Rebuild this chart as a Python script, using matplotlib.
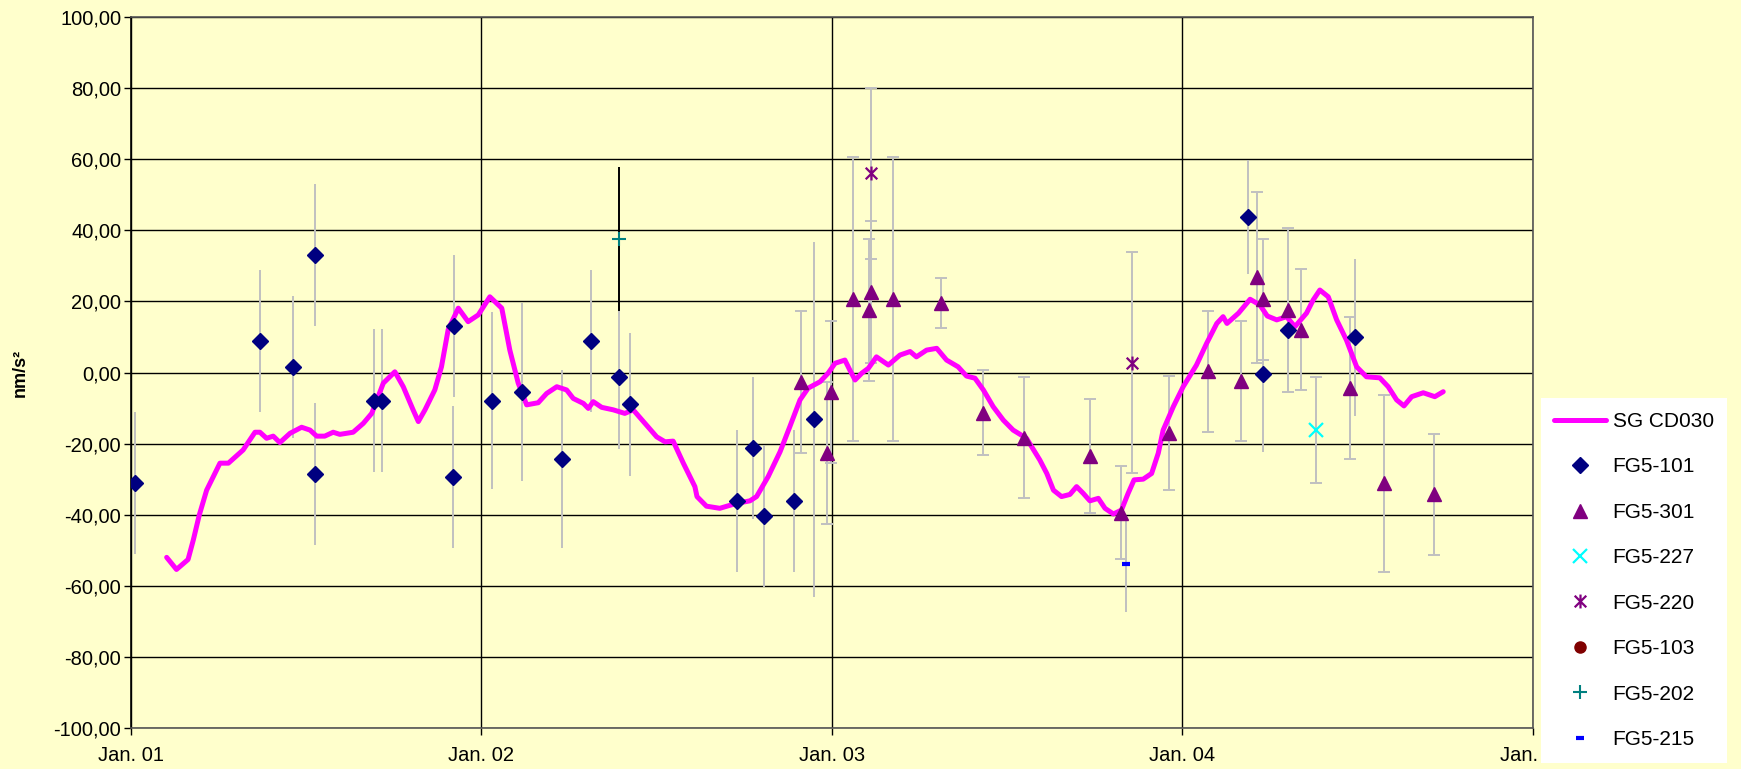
import matplotlib
matplotlib.use("Agg")
import matplotlib.pyplot as plt
from matplotlib.path import Path

plt.rcParams['font.family'] = ['Liberation Sans', 'DejaVu Sans']

# SG CD030 (decimal year, nm/s^2)
sg_x = [2001.102, 2001.130, 2001.163, 2001.178, 2001.195, 2001.216, 2001.254, 2001.278,
        2001.320, 2001.354, 2001.368, 2001.387, 2001.406, 2001.425, 2001.454, 2001.487,
        2001.511, 2001.530, 2001.553, 2001.577, 2001.596, 2001.634, 2001.663, 2001.687,
        2001.691, 2001.720, 2001.753, 2001.777, 2001.805, 2001.820, 2001.839, 2001.867,
        2001.886, 2001.905, 2001.934, 2001.962, 2001.991, 2002.024, 2002.058, 2002.081,
        2002.105, 2002.129, 2002.162, 2002.186, 2002.215, 2002.243, 2002.262, 2002.291,
        2002.305, 2002.319, 2002.343, 2002.376, 2002.409, 2002.433, 2002.471, 2002.500,
        2002.524, 2002.547, 2002.576, 2002.609, 2002.615, 2002.642, 2002.680, 2002.728,
        2002.766, 2002.785, 2002.818, 2002.852, 2002.880, 2002.909, 2002.932, 2002.966,
        2002.989, 2003.009, 2003.037, 2003.051, 2003.066, 2003.085, 2003.104, 2003.127,
        2003.161, 2003.194, 2003.223, 2003.241, 2003.270, 2003.299, 2003.327, 2003.360,
        2003.384, 2003.408, 2003.432, 2003.460, 2003.489, 2003.517, 2003.555, 2003.593,
        2003.613, 2003.632, 2003.655, 2003.679, 2003.698, 2003.717, 2003.736, 2003.760,
        2003.779, 2003.803, 2003.826, 2003.845, 2003.862, 2003.888, 2003.912, 2003.931,
        2003.945, 2003.974, 2004.002, 2004.040, 2004.069, 2004.098, 2004.116, 2004.127,
        2004.160, 2004.193, 2004.221, 2004.242, 2004.269, 2004.297, 2004.321, 2004.354,
        2004.373, 2004.392, 2004.416, 2004.440, 2004.468, 2004.497, 2004.525, 2004.563,
        2004.587, 2004.611, 2004.632, 2004.654, 2004.687, 2004.720, 2004.744]
sg_y = [-52.0, -55.4, -52.6, -47.1, -40.1, -33.1, -25.5, -25.5,
        -21.8, -16.8, -16.8, -18.5, -17.9, -19.7, -17.1, -15.4,
        -16.2, -17.9, -17.9, -16.8, -17.4, -16.8, -14.3, -11.5,
        -10.5, -3.0, 0.2, -4.0, -10.5, -13.8, -10.5, -4.9,
        1.6, 12.0, 18.1, 14.3, 16.2, 21.3, 18.1, 6.3,
        -3.0, -9.1, -8.5, -5.9, -4.0, -4.9, -7.3, -8.7,
        -10.1, -8.2, -9.8, -10.5, -11.5, -10.5, -14.8, -18.1,
        -19.5, -19.3, -25.5, -32.1, -34.9, -37.6, -38.2, -36.8,
        -36.1, -34.9, -29.3, -22.3, -15.2, -7.7, -4.4, -2.6,
        -0.2, 2.6, 3.5, 0.7, -2.1, -0.2, 1.2, 4.4,
        2.1, 4.9, 5.9, 4.4, 6.3, 6.8, 3.5, 1.6,
        -1.0, -1.6, -4.9, -9.6, -13.4, -16.2, -18.5, -24.6,
        -28.4, -33.1, -34.9, -34.3, -32.1, -34.0, -36.1, -35.4,
        -38.2, -39.8, -38.7, -34.0, -30.2, -30.0, -28.4, -22.7,
        -16.2, -9.6, -4.0, 2.1, 8.2, 13.8, 15.7, 13.8,
        16.7, 20.6, 19.0, 15.9, 14.8, 15.7, 12.9, 16.7,
        20.4, 23.2, 21.3, 14.8, 9.1, 1.6, -1.2, -1.5,
        -4.0, -7.7, -9.4, -6.8, -5.7, -6.8, -5.4]

fg101_x = [2001.011, 2001.369, 2001.462, 2001.526, 2001.526, 2001.694, 2001.715, 2001.919,
           2001.923, 2002.030, 2002.115, 2002.229, 2002.313, 2002.392, 2002.424, 2002.728,
           2002.776, 2002.807, 2002.891, 2002.948, 2004.188, 2004.229, 2004.300, 2004.492]
fg101_y = [-31.0, 8.9, 1.6, 33.0, -28.5, -7.9, -7.9, -29.4,
           13.1, -7.9, -5.4, -24.4, 8.9, -1.4, -9.0, -36.1,
           -21.3, -40.3, -36.1, -13.2, 43.7, -0.3, 12.0, 9.9]
fg101_err = [20, 20, 20, 20, 20, 20, 20, 20,
             20, 25, 25, 25, 20, 20, 20, 20,
             20, 20, 20, 50, 16, 22, 17, 22]

fg301_x = [2002.912, 2002.986, 2002.996, 2003.059, 2003.106, 2003.111, 2003.175, 2003.311,
           2003.432, 2003.548, 2003.736, 2003.825, 2003.961, 2004.072, 2004.166, 2004.214,
           2004.229, 2004.300, 2004.339, 2004.477, 2004.576, 2004.718]
fg301_y = [-2.6, -22.6, -5.4, 20.6, 17.6, 22.6, 20.6, 19.6,
           -11.3, -18.3, -23.5, -39.4, -17.1, 0.4, -2.4, 26.8,
           20.6, 17.6, 12.0, -4.4, -31.2, -34.3]
fg301_err = [20, 20, 20, 40, 20, 20, 40, 7,
             12, 17, 16, 13, 16, 17, 17, 24,
             17, 23, 17, 20, 25, 17]

fg227_x = [2004.382]
fg227_y = [-16.2]
fg227_err = [15]

fg220_x = [2003.111, 2003.856]
fg220_y = [56.0, 2.8]
fg220_err = [24, 31]

fg103_x = []
fg103_y = []

fg202_x = [2002.392]
fg202_y = [37.6]
fg202_err = [20.3]

fg215_x = [2003.839]
fg215_y = [-53.9]
fg215_err = [13.4]

year_ticks = [2001, 2002, 2003, 2004, 2005]
year_labels = ['Jan. 01', 'Jan. 02', 'Jan. 03', 'Jan. 04', 'Jan. 05']
y_ticks = [-100, -80, -60, -40, -20, 0, 20, 40, 60, 80, 100]
y_labels = ['-100,00', '-80,00', '-60,00', '-40,00', '-20,00', '0,00',
            '20,00', '40,00', '60,00', '80,00', '100,00']

bg = '#FFFFCC'
gray = '#C0C0C0'

# asterisk like marker (x with vertical bar)
star = Path([(-1, -1), (1, 1), (-1, 1), (1, -1), (0, -1.2), (0, 1.2)],
            [Path.MOVETO, Path.LINETO, Path.MOVETO, Path.LINETO, Path.MOVETO, Path.LINETO])

fig = plt.figure(figsize=(17.41, 7.69), dpi=100, facecolor=bg)
ax = fig.add_axes([0.0752, 0.0533, 0.8053, 0.9246])
ax.set_facecolor(bg)

ax.grid(True, color='black', linewidth=1.0, zorder=0)
ax.set_axisbelow(True)

# error bars
ax.errorbar(fg101_x, fg101_y, yerr=fg101_err, fmt='none', ecolor=gray, elinewidth=1.4, zorder=2)
ax.errorbar(fg301_x, fg301_y, yerr=fg301_err, fmt='none', ecolor=gray, elinewidth=1.4,
            capsize=4.5, capthick=1.4, zorder=2)
ax.errorbar(fg227_x, fg227_y, yerr=fg227_err, fmt='none', ecolor=gray, elinewidth=1.4,
            capsize=4.5, capthick=1.4, zorder=2)
ax.errorbar(fg220_x, fg220_y, yerr=fg220_err, fmt='none', ecolor=gray, elinewidth=1.4,
            capsize=4.5, capthick=1.4, zorder=2)
ax.errorbar(fg202_x, fg202_y, yerr=fg202_err, fmt='none', ecolor='black', elinewidth=1.4, zorder=2)
ax.errorbar(fg215_x, fg215_y, yerr=fg215_err, fmt='none', ecolor=gray, elinewidth=1.4, zorder=2)

ax.plot(sg_x, sg_y, color='#FF00FF', linewidth=3.6, solid_capstyle='round',
        solid_joinstyle='round', label='SG CD030', zorder=3)

ax.plot(fg101_x, fg101_y, 'D', color='#000080', markersize=8, linestyle='none',
        label='FG5-101', zorder=4)
ax.plot(fg301_x, fg301_y, '^', color='#800080', markersize=10, linestyle='none',
        label='FG5-301', zorder=4)
ax.plot(fg227_x, fg227_y, 'x', color='#00FFFF', markersize=10, markeredgewidth=1.6,
        linestyle='none', label='FG5-227', zorder=4)
ax.plot(fg220_x, fg220_y, marker=star, color='#800080', markersize=10, markeredgewidth=1.6,
        linestyle='none', label='FG5-220', zorder=4)
ax.plot(fg103_x, fg103_y, 'o', color='#800000', markersize=8, linestyle='none',
        label='FG5-103', zorder=4)
ax.plot(fg202_x, fg202_y, '+', color='#008080', markersize=10, markeredgewidth=1.5,
        linestyle='none', label='FG5-202', zorder=4)
ax.plot(fg215_x, fg215_y, '_', color='#0000FF', markersize=6, markeredgewidth=3,
        linestyle='none', label='FG5-215', zorder=4)

ax.set_xlim(2001, 2005)
ax.set_ylim(-100, 100)
ax.set_xticks(year_ticks)
ax.set_xticklabels(year_labels)
ax.set_yticks(y_ticks)
ax.set_yticklabels(y_labels)
ax.tick_params(axis='both', labelsize=14.5, length=5, width=1, color='black')
ax.tick_params(axis='y', pad=2)
ax.tick_params(axis='x', pad=8)
for s in ax.spines.values():
    s.set_color('#555555')
    s.set_linewidth(1.2)
ax.spines['left'].set_color('black')

ax.set_ylabel('nm/s²', fontsize=13, fontweight='bold', labelpad=18)

leg = fig.legend(loc='upper left', bbox_to_anchor=(0.885, 0.482), fontsize=15,
                 frameon=True, facecolor='white', edgecolor='none', framealpha=1,
                 fancybox=False, handlelength=2.5, handletextpad=0.3,
                 labelspacing=1.27, borderpad=0.65, borderaxespad=0)
leg.set_zorder(10)

fig.savefig('out.png', dpi=100, facecolor=bg)
